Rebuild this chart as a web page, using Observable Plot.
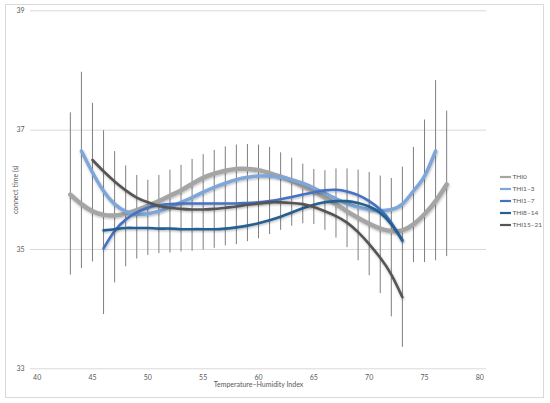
<!DOCTYPE html>
<html>
<head>
<meta charset="utf-8">
<script src="https://cdn.jsdelivr.net/npm/d3@7"></script>
<script src="https://cdn.jsdelivr.net/npm/@observablehq/plot@0.6"></script>
<style>
  html, body { margin: 0; padding: 0; background: #fff; }
  #wrap { position: relative; width: 550px; height: 403px; overflow: hidden; }
  #frame { position: absolute; left: 5px; top: 4px; width: 539px; height: 394px; border: 1px solid #d9d9d9; box-sizing: border-box; pointer-events: none; }
</style>
</head>
<body>
<div id="wrap"><div id="frame"></div></div>
<script>
// THI values of the error bars
const barX = [43,44,45,46,47,48,49,50,51,52,53,54,55,56,57,58,59,60,61,62,63,64,65,66,67,68,69,70,71,72,73,74,75,76,77];
const barHigh = [37.29,37.97,37.45,36.99,36.64,36.40,36.24,36.16,36.24,36.33,36.41,36.51,36.59,36.66,36.72,36.75,36.76,36.75,36.71,36.62,36.53,36.43,36.34,36.32,36.35,36.35,36.33,36.29,36.23,36.19,36.38,36.71,37.17,37.83,37.32];
const barLow = [34.57,34.68,34.79,33.91,34.44,34.71,34.84,34.90,34.93,34.94,34.96,34.97,34.99,35.02,35.06,35.08,35.13,35.18,35.25,35.32,35.39,35.43,35.42,35.32,35.19,35.03,34.81,34.56,34.26,33.87,33.36,34.78,34.78,34.81,34.88];

// series names and colours
const seriesNames = ["THI0", "THI1\u20133", "THI1\u20137", "THI8\u201314", "THI15\u201321"];
const seriesColors = ["#a5a5a5", "#7ea6d8", "#4472c4", "#255e91", "#555555"];
const seriesWidths = [4.5, 3.5, 2.6, 2.6, 2.6];

// each series: first THI and values
const thi0Start = 43;
const thi0 = [35.92,35.76,35.64,35.58,35.57,35.60,35.66,35.73,35.81,35.90,35.99,36.10,36.20,36.27,36.32,36.35,36.35,36.33,36.28,36.22,36.15,36.06,35.97,35.87,35.76,35.64,35.53,35.43,35.35,35.31,35.32,35.42,35.59,35.81,36.09];
const thi1_3Start = 44;
const thi1_3 = [36.65,36.29,35.98,35.76,35.64,35.59,35.60,35.64,35.71,35.79,35.87,35.96,36.04,36.11,36.17,36.21,36.23,36.23,36.21,36.17,36.11,36.03,35.94,35.85,35.77,35.71,35.67,35.65,35.67,35.76,35.98,36.23,36.65];
const thi1_7Start = 46;
const thi1_7 = [35.02,35.31,35.50,35.62,35.70,35.74,35.76,35.77,35.77,35.77,35.77,35.77,35.77,35.78,35.79,35.81,35.84,35.88,35.92,35.96,35.99,36.00,35.97,35.91,35.81,35.67,35.45,35.14];
const thi8_14Start = 46;
const thi8_14 = [35.32,35.34,35.36,35.36,35.36,35.35,35.35,35.34,35.34,35.34,35.34,35.35,35.37,35.40,35.44,35.49,35.55,35.62,35.69,35.75,35.79,35.81,35.81,35.78,35.72,35.61,35.42,35.16];
const thi15_21Start = 45;
const thi15_21 = [36.50,36.31,36.14,35.99,35.87,35.79,35.73,35.70,35.68,35.67,35.67,35.68,35.70,35.72,35.75,35.77,35.79,35.79,35.78,35.76,35.71,35.64,35.56,35.45,35.29,35.09,34.86,34.58,34.20];

const xTicks = [40,45,50,55,60,65,70,75,80];
const yTicks = [33,35,37,39];

const starts = [thi0Start, thi1_3Start, thi1_7Start, thi8_14Start, thi15_21Start];
const values = [thi0, thi1_3, thi1_7, thi8_14, thi15_21];
const lineData = [];
values.forEach((arr, s) => arr.forEach((v, i) => lineData.push({series: seriesNames[s], x: starts[s] + i, y: v})));
const bars = barX.map((x, i) => ({x, lo: barLow[i], hi: barHigh[i]}));

const font = "Lato, 'Open Sans', sans-serif";

const chart = Plot.plot({
  width: 550,
  height: 403,
  marginLeft: 30,
  marginRight: 64,
  marginTop: 10.3,
  marginBottom: 34.7,
  style: {fontFamily: font, fontSize: "7px", color: "#595959", background: "transparent"},
  x: {domain: [39.4, 80.6], ticks: xTicks, tickFormat: "d", tickSize: 0, tickPadding: 6, label: "Temperature\u2013Humidity Index", labelAnchor: "center", labelOffset: 18, labelArrow: "none"},
  y: {domain: [33, 39], ticks: yTicks, tickFormat: "d", tickSize: 0, tickPadding: 6, label: "connect time (s)", labelAnchor: "center", labelOffset: 17, labelArrow: "none"},
  marks: [
    Plot.gridY(yTicks, {stroke: "#d9d9d9", strokeOpacity: 1}),
    Plot.ruleX(bars, {x: "x", y1: "lo", y2: "hi", stroke: "#7f7f7f", strokeWidth: 1}),
    ...seriesNames.map((name, s) => Plot.line(lineData.filter(d => d.series === name), {
      x: "x", y: "y", stroke: seriesColors[s], strokeWidth: seriesWidths[s], curve: "natural", strokeLinecap: "round"
    }))
  ]
});

document.getElementById("wrap").prepend(chart);

// soft shadow on the trend lines
const svg = d3.select(chart);
const defs = svg.append("defs");
const f = defs.append("filter").attr("id", "shadow").attr("x", "-10%").attr("y", "-10%").attr("width", "120%").attr("height", "130%");
f.append("feDropShadow").attr("dx", 0.6).attr("dy", 1.2).attr("stdDeviation", 1.2).attr("flood-color", "#000").attr("flood-opacity", 0.28);
svg.selectAll("g[aria-label='line'] path").attr("filter", "url(#shadow)");

// legend
const lg = svg.append("g").attr("font-family", font).attr("font-size", "6.5px").attr("fill", "#595959").attr("text-anchor", "start");
seriesNames.forEach((name, i) => {
  const yy = 177 + i * 12;
  lg.append("line").attr("x1", 500).attr("x2", 511).attr("y1", yy).attr("y2", yy)
    .attr("stroke", seriesColors[i]).attr("stroke-width", 2.2);
  lg.append("text").attr("x", 512.5).attr("y", yy).attr("dy", "0.35em").attr("text-anchor", "start").text(name);
});
</script>
</body>
</html>
